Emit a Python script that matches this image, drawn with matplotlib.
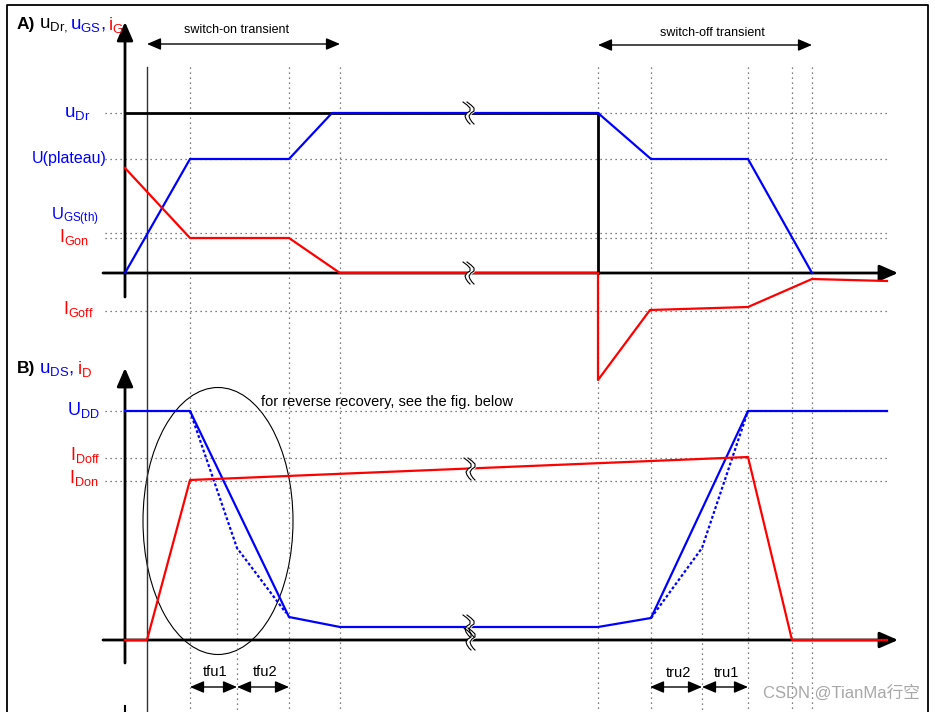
import numpy as np
import matplotlib
matplotlib.use("Agg")
import matplotlib.pyplot as plt
from matplotlib.patches import Ellipse

plt.rcParams['font.family'] = ['Liberation Sans', 'DejaVu Sans']
plt.rcParams['mathtext.default'] = 'regular'

BLUE = '#0000ff'
RED = '#ff0000'
DOT = '#555555'

# ---- panel A: gate drive waveforms (x = time, y = level, both in picture units) ----
udr_t = [125, 598, 598]
udr_v = [113, 113, 273]
ugs_t = [125, 190, 289, 332, 598, 651, 748, 812]
ugs_v = [273, 159, 159, 113, 113, 159, 159, 273]
ig_t = [125, 190, 289, 340, 598, 598, 650, 748, 812, 887]
ig_v = [168, 238, 238, 273, 273, 380, 310, 307, 279, 281]

# ---- panel B: drain waveforms ----
uds_t = [125, 190, 289, 340, 598, 651, 748, 887]
uds_v = [411, 411, 617, 627, 627, 618, 411, 411]
uds_on_alt_t = [190, 237, 286]
uds_on_alt_v = [411, 548, 613]
uds_off_alt_t = [651, 702, 748]
uds_off_alt_v = [618, 548, 411]
id_t = [125, 147, 190, 748, 792, 887]
id_v = [640, 640, 480, 457, 640, 640]

# reference levels and instants
levels_A = {'u_Dr': 113, 'U(plateau)': 159, 'U_GS(th)': 233, 'I_Gon': 238, 'I_Goff': 311}
levels_B = {'U_DD': 411, 'I_Doff': 458, 'I_Don': 481}
instants = [190, 289, 340, 598, 651, 748, 792, 812]
sub_instants = [237, 702]

fig = plt.figure(figsize=(9.35, 7.12), dpi=100)
ax = fig.add_axes([0, 0, 1, 1])
ax.set_xlim(0, 935)
ax.set_ylim(712, 0)
ax.axis('off')

# outer frame
ax.plot([7, 7, 928, 928], [720, 5, 5, 720], color='k', lw=1.3)

# dotted grid
for x in instants:
    ax.plot([x, x], [67, 712], color=DOT, lw=0.9, ls=(0, (1, 3)))
for x in sub_instants:
    ax.plot([x, x], [548, 712], color=DOT, lw=0.9, ls=(0, (1, 3)))
for y in list(levels_A.values()) + list(levels_B.values()):
    ax.plot([105, 887], [y, y], color=DOT, lw=0.9, ls=(0, (1, 3)))

# thin reference line
ax.plot([147, 147], [67, 712], color='#333333', lw=1)

# axes with arrows
arr = dict(arrowstyle='-|>,head_length=0.8,head_width=0.35', lw=2, color='k',
           mutation_scale=14, shrinkA=0, shrinkB=0)
ax.annotate('', xy=(125, 22), xytext=(125, 297), arrowprops=arr)
ax.annotate('', xy=(898, 273), xytext=(103, 273), arrowprops=arr)
ax.annotate('', xy=(125, 368), xytext=(125, 663), arrowprops=arr)
ax.annotate('', xy=(898, 640), xytext=(103, 640), arrowprops=arr)
ax.plot([125, 125], [706, 712], color='k', lw=1.5)

# waveforms (on top of the axes)
ax.plot(udr_t, udr_v, color='k', lw=2, zorder=3)
ax.plot(ugs_t, ugs_v, color=BLUE, lw=1.6, zorder=4)
ax.plot(ig_t, ig_v, color=RED, lw=1.6, zorder=4)
ax.plot(uds_t, uds_v, color=BLUE, lw=1.6, zorder=4)
ax.plot(uds_on_alt_t, uds_on_alt_v, color=BLUE, lw=1.6, ls=(0, (1.3, 1)), zorder=4)
ax.plot(uds_off_alt_t, uds_off_alt_v, color=BLUE, lw=1.6, ls=(0, (1.3, 1)), zorder=4)
ax.plot(id_t, id_v, color=RED, lw=1.6, zorder=4)

ax.add_patch(Ellipse((218, 521), 150, 267, fill=False, color='k', lw=0.8))

# break marks
def break_mark(cx, cy):
    dx = np.array([-4, 0, 3, 3, 0, -2, -1, 1, 3])
    dy = np.array([-11, -8, -5, -2, 0, 3, 6, 9, 11])
    ax.fill_betweenx(cy + dy, cx + dx, cx + dx + 4, color='white', zorder=5)
    ax.plot(cx + dx, cy + dy, color='k', lw=0.8, zorder=6)
    ax.plot(cx + dx + 4, cy + dy, color='k', lw=0.8, zorder=6)

for cx, cy in [(467, 113), (467, 273), (468, 469), (467, 626), (468, 639)]:
    break_mark(cx, cy)

# transient arrows
darr = dict(arrowstyle='<|-|>,head_length=0.7,head_width=0.3', lw=1, color='k',
            mutation_scale=12, shrinkA=0, shrinkB=0)
ax.annotate('', xy=(147, 44), xytext=(340, 44), arrowprops=darr)
ax.annotate('', xy=(598, 45), xytext=(812, 45), arrowprops=darr)
ax.text(237, 30, 'switch-on transient', fontsize=9, ha='center', va='center')
ax.text(712, 33, 'switch-off transient', fontsize=9, ha='center', va='center')

for a, b in [(190, 237), (237, 289), (650, 702), (702, 748)]:
    ax.annotate('', xy=(a, 687), xytext=(b, 687), arrowprops=darr)
ax.text(215, 672, 'tfu1', fontsize=10.5, ha='center', va='center')
ax.text(265, 672, 'tfu2', fontsize=10.5, ha='center', va='center')
ax.text(678, 673, 'tru2', fontsize=10.5, ha='center', va='center')
ax.text(726, 673, 'tru1', fontsize=10.5, ha='center', va='center')

ax.text(261, 402, 'for reverse recovery, see the fig. below', fontsize=10.5,
        ha='left', va='center')

# panel titles
ax.text(17, 24, 'A)', fontsize=12.5, fontweight='bold', ha='left', va='center')
ax.text(39, 25, r'$u_{Dr,}$', fontsize=13.5, color='k', ha='left', va='center')
ax.text(70, 25, r'$u_{GS}$,', fontsize=13.5, color=BLUE, ha='left', va='center')
ax.text(108, 25, r'$i_G$', fontsize=13.5, color=RED, ha='left', va='center')

ax.text(17, 368, 'B)', fontsize=12.5, fontweight='bold', ha='left', va='center')
ax.text(39, 369, r'$u_{DS}$,', fontsize=13.5, color=BLUE, ha='left', va='center')
ax.text(77, 369, r'$i_D$', fontsize=13.5, color=RED, ha='left', va='center')

# level labels
ax.text(90, 114, r'$u_{Dr}$', fontsize=13.5, color=BLUE, ha='right', va='center')
ax.text(107, 158, 'U(plateau)', fontsize=11.5, color=BLUE, ha='right', va='center')
ax.text(99, 217, r'$U_{GS(th)}$', fontsize=12, color=BLUE, ha='right', va='center')
ax.text(89, 237, r'$I_{Gon}$', fontsize=13, color=RED, ha='right', va='center')
ax.text(94, 309, r'$I_{Goff}$', fontsize=13, color=RED, ha='right', va='center')
ax.text(100, 410, r'$U_{DD}$', fontsize=13, color=BLUE, ha='right', va='center')
ax.text(100, 455, r'$I_{Doff}$', fontsize=13, color=RED, ha='right', va='center')
ax.text(99, 478, r'$I_{Don}$', fontsize=13, color=RED, ha='right', va='center')

ax.text(920, 693, 'CSDN @TianMa行空', fontsize=12, color='#a8a8a8', ha='right',
        va='center', family=['Liberation Sans', 'Noto Sans CJK SC'])

fig.savefig('out.png', dpi=100)
